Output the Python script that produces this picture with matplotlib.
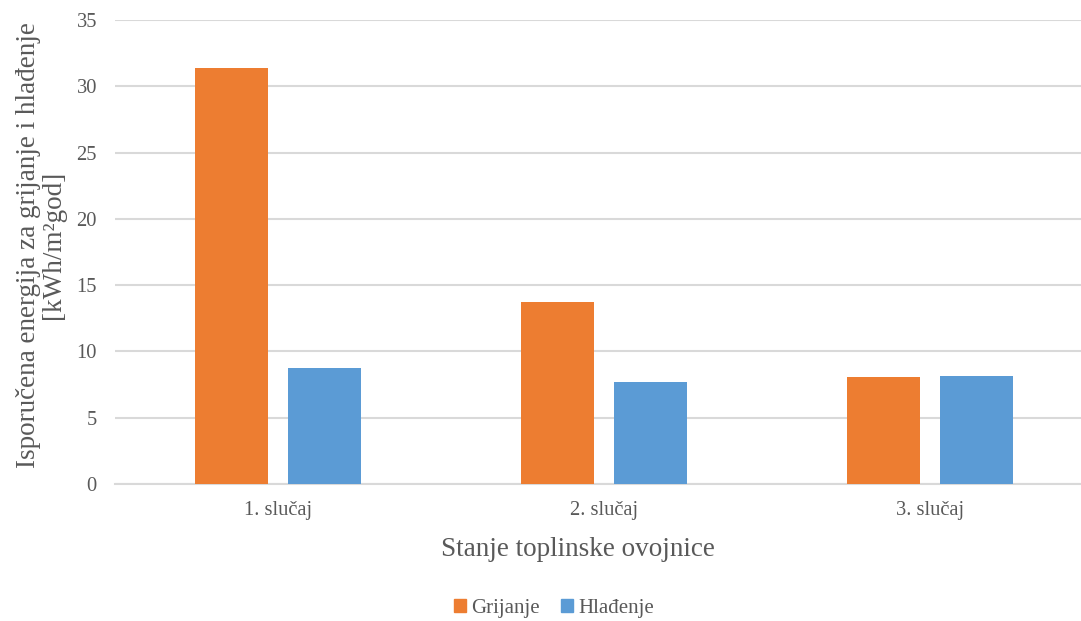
import matplotlib
matplotlib.use("Agg")
import matplotlib.pyplot as plt
import numpy as np
from matplotlib.patches import Patch

categories = ["1. slučaj", "2. slučaj", "3. slučaj"]
grijanje = [31.4, 13.75, 8.05]
hladenje = [8.75, 7.7, 8.15]
series_names = ["Grijanje", "Hlađenje"]
yticks = [0, 5, 10, 15, 20, 25, 30, 35]

plt.rcParams['font.family'] = ['Liberation Serif', 'DejaVu Serif']
txt = '#595959'
grid_c = '#d9d9d9'
c_or = '#ED7D31'
c_bl = '#5B9BD5'

W, H = 1081, 621
fig = plt.figure(figsize=(W/100, H/100), dpi=100)
left, right = 115/W, 1093/W
bottom, top = 1 - 484/H, 1 - 20/H
ax = fig.add_axes([left, bottom, right-left, top-bottom])

x = np.arange(len(categories))
bw = 0.224
off = 0.142
ax.bar(x - off, grijanje, bw, color=c_or, zorder=3)
ax.bar(x + off, hladenje, bw, color=c_bl, zorder=3)

ax.set_xlim(-0.5, 2.5)
ax.set_ylim(0, 35)
ax.set_yticks(yticks)
ax.set_yticklabels([str(v) for v in yticks])
ax.set_xticks(x)
ax.set_xticklabels(categories)
ax.yaxis.grid(True, color=grid_c, linewidth=1.5, zorder=0)
ax.set_axisbelow(True)
for s in ['top', 'right', 'left']:
    ax.spines[s].set_visible(False)
ax.spines['bottom'].set_color(grid_c)
ax.spines['bottom'].set_linewidth(1.5)
ax.tick_params(axis='both', length=0, colors=txt, labelsize=14.8)
ax.tick_params(axis='y', pad=13)
ax.tick_params(axis='x', pad=12)

fig.text(41/W, 1 - 245/H, "Isporučena energija za grijanje i hlađenje\n[kWh/m²god]",
         rotation=90, ha='center', va='center', fontsize=19.5, color=txt, linespacing=0.95)
fig.text(578/W, 1 - 550/H, "Stanje toplinske ovojnice", ha='center', va='center',
         fontsize=19.5, color=txt)

handles = [Patch(color=c_or), Patch(color=c_bl)]
fig.legend(handles, series_names, loc='center', bbox_to_anchor=(554/W, 1 - 608/H),
           ncol=2, frameon=False, fontsize=15, labelcolor=txt,
           handlelength=0.6, handleheight=0.6, handletextpad=0.25, columnspacing=1.0)

fig.savefig("out.png", dpi=100)
